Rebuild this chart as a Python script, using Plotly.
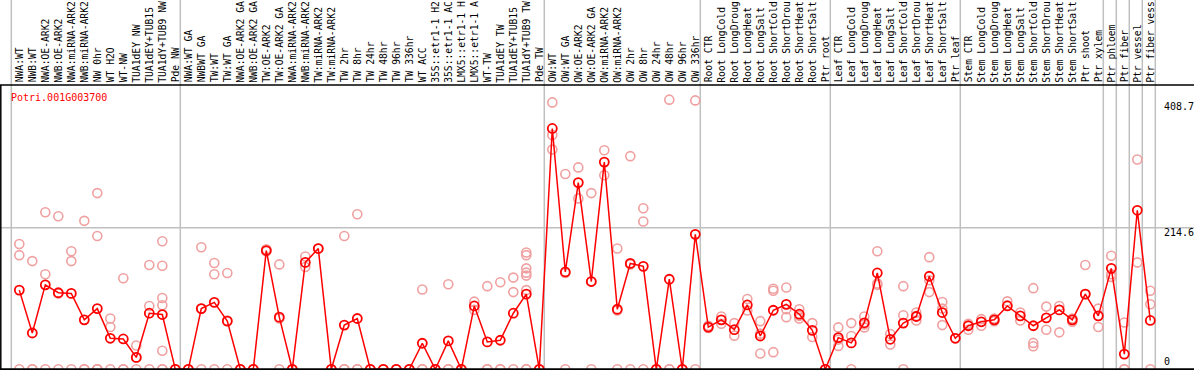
import plotly.graph_objects as go

W, H = 1194, 370

categories = [
    "NWA:WT", "NWB:WT", "NWA:OE-ARK2", "NWB:OE-ARK2", "NWA:miRNA-ARK2", "NWB:miRNA-ARK2",
    "NW 0hr", "WT H2O", "WT-NW", "TUA1dEY NW", "TUA1dEY+TUB15 NW", "TUA1dY+TUB9 NW", "Pde NW",
    "NWA:WT GA", "NWBWT GA", "TW:WT", "TW:WT GA", "NWA:OE-ARK2 GA", "NWB:OE-ARK2 GA",
    "TW:OE-ARK2", "TW:OE-ARK2 GA", "NWA:miRNA-ARK2 GA", "NWB:miRNA-ARK2 GA", "TW:miRNA-ARK2",
    "TW:miRNA-ARK2 GA", "TW 2hr", "TW 8hr", "TW 24hr", "TW 48hr", "TW 96hr", "TW 336hr",
    "WT ACC", "35S::etr1-1 H2O", "35S::etr1-1 ACC", "LMX5::etr1-1 H2O", "LMX5::etr1-1 ACC",
    "WT-TW", "TUA1dEY TW", "TUA1dEY+TUB15 TW", "TUA1dY+TUB9 TW", "Pde TW",
    "OW:WT", "OW:WT GA", "OW:OE-ARK2", "OW:OE-ARK2 GA", "OW:miRNA-ARK2", "OW:miRNA-ARK2 GA",
    "OW 2hr", "OW 8hr", "OW 24hr", "OW 48hr", "OW 96hr", "OW 336hr",
    "Root CTR", "Root LongCold", "Root LongDrought", "Root LongHeat", "Root LongSalt",
    "Root ShortCold", "Root ShortDrought", "Root ShortHeat", "Root ShortSalt", "Ptr root",
    "Leaf CTR", "Leaf LongCold", "Leaf LongDrought", "Leaf LongHeat", "Leaf LongSalt",
    "Leaf ShortCold", "Leaf ShortDrought", "Leaf ShortHeat", "Leaf ShortSalt", "Ptr leaf",
    "Stem CTR", "Stem LongCold", "Stem LongDrought", "Stem LongHeat", "Stem LongSalt",
    "Stem ShortCold", "Stem ShortDrought", "Stem ShortHeat", "Stem ShortSalt", "Ptr shoot",
    "Ptr xylem", "Ptr phloem", "Ptr fiber", "Ptr vessel", "Ptr fiber vessel",
]

means = [
    120, 55, 128, 116, 115, 75, 92, 47, 46, 18, 85, 83, 0,
    0, 92, 101.5, 73, 0, 0, 180, 79, 0, 162, 183, 0, 67, 77, 0, 0, 0, 0,
    39.5, 0, 43, 0, 96, 41.5, 44, 85, 114, 0,
    365, 147.5, 283, 133, 314, 91, 160.5, 156, 0, 136.5, 0, 204.5,
    64, 75, 60, 97.5, 50.5, 89.5, 98.5, 83.5, 59, 0,
    48, 40, 70.5, 146, 45.5, 70, 80, 141, 86, 47,
    66, 72, 75, 96, 81, 66, 78, 90, 75, 114,
    81, 153, 23, 241, 74,
]

replicates = [
    [190, 173, 0], [164, 0, 0], [238, 144, 0], [232, 115, 0], [179, 164, 0], [225, 0, 0],
    [267, 202, 0, 0, 0], [77, 64, 0], [138, 0, 0], [36, 18, 0], [158, 96, 0],
    [194, 157, 108, 97, 28, 0, 0], [0, 0],
    [0, 0], [185, 92, 0], [161, 144, 0], [146, 74, 0], [0, 0], [0, 0], [182, 179], [159, 77, 0],
    [0, 0], [171, 155], [183], [0, 0], [202, 0, 0], [235, 0, 0], [0, 0], [0, 0], [0, 0], [0, 0],
    [121, 0, 0], [0, 0], [129, 0, 0], [0, 0], [102.5, 90], [126, 0, 0], [132, 0, 0],
    [139, 117, 0], [177, 173, 153, 146.5, 142, 120, 0, 0], [0, 0],
    [404.5, 355, 333], [296, 146, 0], [306, 259], [267, 133, 0], [332, 294], [183, 89, 0],
    [323, 159, 0], [244, 224, 0], [0, 0], [408.7, 0, 0], [0, 0], [407.5, 0],
    [62.5, 66], [80, 69], [70, 51], [106.5, 89], [73, 24, 54], [122, 119, 26], [124, 91, 79],
    [91, 77, 81], [70, 49], [0, 0],
    [63.5, 35.5, 45], [70, 50.5, 0], [80, 63.5, 68], [179, 130, 128], [53.5, 37.5],
    [126, 82, 0], [86, 74, 81], [170, 135, 117], [102, 92, 67], [47],
    [69, 60], [76, 66], [77, 73], [103, 97], [86, 74], [123, 40, 35], [95, 60], [96, 56],
    [77, 72], [158, 114],
    [92, 64], [172, 144, 140], [71, 0, 0], [318, 162], [119, 98.5, 0],
]

ytick_vals = [0, 214.6, 408.7]
ytick_text = ["0", "214.6", "408.7"]
gene_id = "Potri.001G003700"
group_starts = [0, 13, 41, 53, 63, 73, 84, 85, 86, 87, 88]
label_chars = 14  # the header shows the first 14 characters of each name

RED = "#ff0000"
PINK = "#f0a0a0"
GRID = "#c0c0c0"
FONT = "DejaVu Sans Mono"

step = 13.0
x0 = -19.3 / step
x1 = (W - 19.3) / step
ppu = 141.6 / 214.6
y_lo = -(H - 369.3) / ppu
y_hi = 369.3 / ppu

xs = list(range(len(categories)))
rep_x, rep_y = [], []
for k, reps in enumerate(replicates):
    for v in reps:
        rep_x.append(k)
        rep_y.append(v)

fig = go.Figure()
fig.add_trace(go.Scatter(
    x=rep_x, y=rep_y, mode="markers",
    marker=dict(symbol="circle-open", size=9, color=PINK, line=dict(width=1.6, color=PINK)),
    hoverinfo="skip", showlegend=False,
))
fig.add_trace(go.Scatter(
    x=xs, y=means, mode="lines+markers",
    line=dict(color=RED, width=1.5),
    marker=dict(symbol="circle-open", size=9, color=RED, line=dict(width=1.8, color=RED)),
    text=categories, showlegend=False,
))

shapes = []
for g in group_starts:
    shapes.append(dict(type="line", xref="x", yref="paper", x0=g - 8 / step, x1=g - 8 / step,
                       y0=0, y1=1, line=dict(color=GRID, width=1.5), layer="below"))
shapes.append(dict(type="line", xref="paper", yref="y", x0=0, x1=1, y0=ytick_vals[1], y1=ytick_vals[1],
                   line=dict(color=GRID, width=1.5), layer="below"))
top_py = 85
shapes.append(dict(type="line", xref="paper", yref="paper", x0=0, x1=1,
                   y0=1 - top_py / H, y1=1 - top_py / H, line=dict(color="black", width=1.5)))
shapes.append(dict(type="line", xref="paper", yref="paper", x0=0.8 / W, x1=0.8 / W,
                   y0=0, y1=1 - top_py / H, line=dict(color="black", width=1.5)))
shapes.append(dict(type="line", xref="paper", yref="y", x0=0, x1=1, y0=0, y1=0,
                   line=dict(color="black", width=2)))

annotations = []
for k, name in enumerate(categories):
    annotations.append(dict(x=k, xref="x", y=1 - 83.5 / H, yref="paper", text=name[:label_chars],
                            textangle=-90, xanchor="center", yanchor="bottom", showarrow=False,
                            font=dict(family=FONT, size=9.7, color="black"), borderpad=0))
annotations.append(dict(x=9 / W, xref="paper", y=1 - 97 / H, yref="paper", text=gene_id,
                        xanchor="left", yanchor="middle", showarrow=False,
                        font=dict(family=FONT, size=10, color=RED)))
shifts = [7.6, -5, -7]
for v, t, s in zip(ytick_vals, ytick_text, shifts):
    annotations.append(dict(x=1162.5 / W, xref="paper", y=v, yref="y", yshift=s, text=t,
                            xanchor="left", yanchor="middle", showarrow=False, borderpad=0,
                            font=dict(family=FONT, size=10, color="black")))

fig.update_layout(
    width=W, height=H,
    margin=dict(l=0, r=0, t=0, b=0),
    paper_bgcolor="white", plot_bgcolor="white",
    xaxis=dict(range=[x0, x1], visible=False, showgrid=False, zeroline=False),
    yaxis=dict(range=[y_lo, y_hi], visible=False, showgrid=False, zeroline=False),
    shapes=shapes, annotations=annotations,
    showlegend=False,
)

fig.write_html("out.html", config={"displayModeBar": False},
               post_script="document.body.style.margin='0';")
